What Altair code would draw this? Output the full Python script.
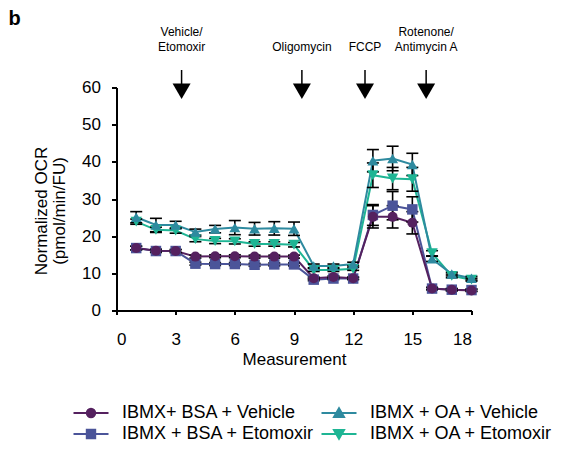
import altair as alt
import pandas as pd

# ---------------- data ----------------
measurement = list(range(1, 19))

series_names = [
    "IBMX+ BSA + Vehicle",
    "IBMX + BSA + Etomoxir",
    "IBMX + OA + Vehicle",
    "IBMX + OA + Etomoxir",
]
series_colors = ["#55215f", "#4b5499", "#2e8a9f", "#1eb594"]
series_shapes = ["circle", "square", "triangle-up", "triangle-down"]
series_sizes = [100, 130, 175, 175]

bsa_vehicle = [16.8, 16.1, 16.0, 14.5, 14.6, 14.6, 14.5, 14.5, 14.5, 8.7, 9.0, 8.7, 25.2, 25.2, 23.6, 5.9, 5.6, 5.4]
bsa_vehicle_err = [0.5, 0.4, 0.4, 0.4, 0.4, 0.4, 0.4, 0.4, 0.4, 0.3, 0.3, 0.3, 3.0, 3.0, 3.0, 0.3, 0.3, 0.3]
bsa_etomoxir = [16.8, 16.0, 16.0, 12.6, 12.5, 12.5, 12.3, 12.4, 12.4, 8.3, 8.6, 8.6, 25.7, 28.2, 27.2, 5.9, 5.6, 5.5]
bsa_etomoxir_err = [0.5, 0.4, 0.4, 0.4, 0.4, 0.4, 0.4, 0.4, 0.4, 0.3, 0.3, 0.3, 2.8, 3.8, 3.4, 0.3, 0.3, 0.3]
oa_vehicle = [25.1, 23.0, 23.0, 21.1, 21.9, 22.3, 22.0, 22.1, 22.0, 12.0, 12.0, 12.5, 40.3, 40.9, 39.3, 13.9, 9.8, 8.7]
oa_vehicle_err = [1.5, 1.8, 1.0, 0.8, 1.0, 1.9, 1.7, 1.8, 1.8, 0.5, 0.5, 0.5, 3.0, 3.3, 3.0, 0.7, 0.5, 0.5]
oa_etomoxir = [23.9, 21.7, 21.5, 19.2, 18.7, 18.6, 17.9, 17.9, 17.7, 10.9, 10.9, 11.2, 36.4, 35.5, 35.3, 15.4, 9.3, 8.3]
oa_etomoxir_err = [0.7, 0.7, 0.7, 0.7, 0.7, 0.7, 0.6, 0.6, 0.6, 0.4, 0.4, 0.4, 3.3, 3.0, 3.2, 0.7, 0.5, 0.4]

# draw order (bottom -> top)
draw_order = [
    ("IBMX + BSA + Etomoxir", bsa_etomoxir, bsa_etomoxir_err),
    ("IBMX + OA + Etomoxir", oa_etomoxir, oa_etomoxir_err),
    ("IBMX + OA + Vehicle", oa_vehicle, oa_vehicle_err),
    ("IBMX+ BSA + Vehicle", bsa_vehicle, bsa_vehicle_err),
]

injection_x = [3.3, 9.4, 12.6, 15.7]
injection_line1 = ["Vehicle/", "", "", "Rotenone/"]
injection_line2 = ["Etomoxir", "Oligomycin", "FCCP", "Antimycin A"]

x_ticks = [0, 3, 6, 9, 12, 15, 18]
y_ticks = [0, 10, 20, 30, 40, 50, 60]

# legend symbols: line segment with marker (unit = half symbol width)
legend_paths = [
    "M-3.5,0L3.5,0M-0.84,0A0.84,0.84,0,1,0,0.84,0A0.84,0.84,0,1,0,-0.84,0Z",
    "M-3.5,0L3.5,0M-0.84,-0.84L0.84,-0.84L0.84,0.84L-0.84,0.84Z",
    "M-3.5,0L3.5,0M0,-0.95L1.0,0.78L-1.0,0.78Z",
    "M-3.5,0L3.5,0M0,0.95L1.0,-0.78L-1.0,-0.78Z",
]

rows = []
for name, vals, errs in draw_order:
    for m, v, e in zip(measurement, vals, errs):
        rows.append({"series": name, "measurement": m, "ocr": v, "err": e})
df = pd.DataFrame(rows)

inj = pd.DataFrame({"inj": injection_x, "line1": injection_line1, "line2": injection_line2})
panel = pd.DataFrame({"panel": ["b"]})

FONT = "Liberation Sans"

# ---------------- scales / axes ----------------
xscale = alt.Scale(domain=[0, 18], nice=False, zero=False)
yscale = alt.Scale(domain=[0, 60], nice=False)
xaxis = alt.Axis(values=x_ticks, title="Measurement", tickSize=4, labelPadding=17,
                 titlePadding=4, format="d")
yaxis = alt.Axis(values=y_ticks, title=["Normalized OCR", "(pmol/min/FU)"], tickSize=5,
                 labelPadding=11, titleX=-66, titleY=123, titleLineHeight=18)

color_scale = alt.Scale(domain=series_names, range=series_colors)
shape_scale = alt.Scale(domain=series_names, range=series_shapes)
size_scale = alt.Scale(domain=series_names, range=series_sizes)
legend_shape_scale = alt.Scale(domain=series_names, range=legend_paths)

X = alt.X("measurement:Q", scale=xscale, axis=xaxis)
Y = alt.Y("ocr:Q", scale=yscale, axis=yaxis)

base = alt.Chart(df)

lines = base.mark_line(strokeWidth=2).encode(
    x=X, y=Y,
    color=alt.Color("series:N", scale=color_scale, legend=None),
)

err = base.transform_calculate(
    lo="datum.ocr - datum.err", hi="datum.ocr + datum.err"
)
err_rule = err.mark_rule(color="black", strokeWidth=1.6).encode(
    x=X, y=alt.Y("lo:Q", scale=yscale, axis=yaxis), y2="hi:Q"
)
cap_hi = err.mark_tick(color="black", thickness=1.6, size=12, orient="horizontal", opacity=1).encode(
    x=X, y=alt.Y("hi:Q", scale=yscale, axis=yaxis)
)
cap_lo = err.mark_tick(color="black", thickness=1.6, size=12, orient="horizontal", opacity=1).encode(
    x=X, y=alt.Y("lo:Q", scale=yscale, axis=yaxis)
)

points = base.mark_point(filled=True, opacity=1, strokeWidth=0).encode(
    x=X, y=Y,
    color=alt.Color("series:N", scale=color_scale, legend=None),
    shape=alt.Shape("series:N", scale=shape_scale, legend=None),
    size=alt.Size("series:N", scale=size_scale, legend=None),
)

legend_def = alt.Legend(
    title=None, orient="none", legendX=-34.5, legendY=316.5, columns=2,
    symbolSize=100, symbolStrokeWidth=2, labelFontSize=18, labelFont=FONT,
    labelColor="black", labelOffset=22, columnPadding=2, rowPadding=3,
    labelLimit=400,
)
legend_layer = base.transform_filter("false").mark_point(
    filled=True, opacity=1, size=100, strokeWidth=2
).encode(
    x=X, y=Y,
    color=alt.Color("series:N", scale=color_scale, legend=legend_def),
    stroke=alt.Stroke("series:N", scale=color_scale, legend=legend_def),
    shape=alt.Shape("series:N", scale=legend_shape_scale, legend=legend_def),
)

IX = alt.X("inj:Q", scale=xscale, axis=xaxis)
arrow_line = alt.Chart(inj).mark_rule(color="black", strokeWidth=1.5).encode(
    x=IX, y=alt.value(-17.5), y2=alt.value(-3)
)
arrow_head = alt.Chart(inj).mark_point(
    shape="triangle-down", filled=True, size=324, color="black", opacity=1, strokeWidth=0
).encode(x=IX, y=alt.value(3.8))
text_style = dict(fontSize=12, font=FONT, baseline="middle", align="center", color="black")
arrow_text1 = alt.Chart(inj).mark_text(**text_style).encode(
    x=IX, y=alt.value(-56), text="line1:N"
)
arrow_text2 = alt.Chart(inj).mark_text(**text_style).encode(
    x=IX, y=alt.value(-40.5), text="line2:N"
)

panel_label = alt.Chart(panel).mark_text(
    fontSize=20, font=FONT, fontWeight="bold", align="left", baseline="alphabetic", color="black"
).encode(x=alt.value(-108), y=alt.value(-63), text="panel:N")

chart = alt.layer(
    lines, err_rule, cap_hi, cap_lo, points, legend_layer,
    arrow_line, arrow_head, arrow_text1, arrow_text2, panel_label
).resolve_scale(
    color="independent", shape="independent", stroke="independent", size="independent"
).properties(
    width=355, height=223,
    autosize=alt.AutoSizeParams(type="none"),
    padding={"left": 108.5, "top": 79.5, "right": 84.5, "bottom": 133},
    background="white",
).configure_view(stroke=None).configure_axis(
    grid=False, domainColor="black", domainWidth=2, tickColor="black", tickWidth=2,
    labelFontSize=17, labelFont=FONT, labelColor="black",
    titleFontSize=17, titleFont=FONT, titleColor="black", titleFontWeight="normal",
)

chart.save("out.html", embed_options={"renderer": "svg", "actions": False})
